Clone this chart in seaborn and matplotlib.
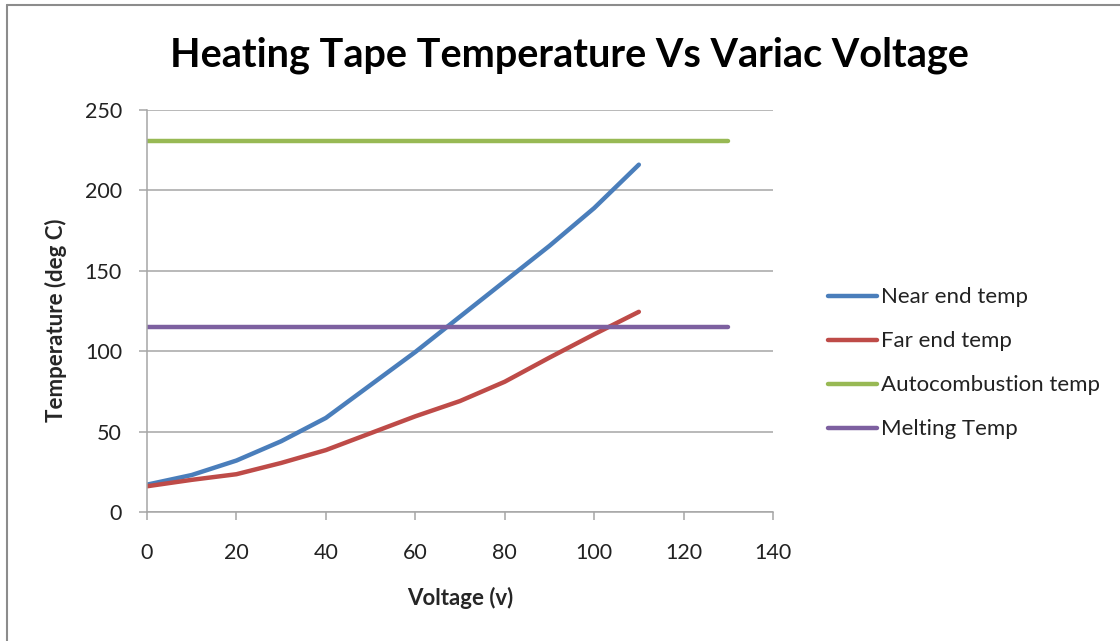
import matplotlib
matplotlib.use("Agg")
import matplotlib.pyplot as plt
from matplotlib.lines import Line2D
import seaborn as sns
import pandas as pd

voltage = [0, 10, 20, 30, 40, 50, 60, 70, 80, 90, 100, 110]
near_end = [17, 23, 32, 44, 58.5, 79, 99.5, 121.5, 143.5, 165.5, 189, 216]
far_end = [16, 20, 23.5, 30.5, 38.5, 49, 59.5, 69, 81, 96, 110.5, 124.5]
ref_voltage = [0, 130]
autocombustion = [231, 231]
melting = [115, 115]

series_names = ["Near end temp", "Far end temp", "Autocombustion temp", "Melting Temp"]
colors = ["#4a7ebb", "#be4b48", "#98b954", "#7d60a0"]

sns.set_theme(style="white")
plt.rcParams["font.family"] = ["Lato", "DejaVu Sans"]

df = pd.concat([
    pd.DataFrame({"V": voltage, "T": near_end, "s": series_names[0]}),
    pd.DataFrame({"V": voltage, "T": far_end, "s": series_names[1]}),
    pd.DataFrame({"V": ref_voltage, "T": autocombustion, "s": series_names[2]}),
    pd.DataFrame({"V": ref_voltage, "T": melting, "s": series_names[3]}),
])

fig = plt.figure(figsize=(11.2, 6.41), dpi=100)
ax = fig.add_axes([147/1120, 1-512/641, (773-147)/1120, (512-110)/641])

sns.lineplot(data=df, x="V", y="T", hue="s", palette=dict(zip(series_names, colors)),
             hue_order=series_names, linewidth=3.2, ax=ax, legend=False,
             sort=False, estimator=None)
for ln in ax.lines:
    ln.set_solid_capstyle("round")
    ln.set_solid_joinstyle("round")

ax.set_xlim(0, 140)
ax.set_ylim(0, 250)
ax.set_xticks(range(0, 141, 20))
ax.set_yticks(range(0, 251, 50))
ax.yaxis.grid(True, color="#a6a6a6", linewidth=1.1)
ax.set_axisbelow(True)
for s in ["top", "right"]:
    ax.spines[s].set_visible(False)
for s in ["left", "bottom"]:
    ax.spines[s].set_color("#a6a6a6")
    ax.spines[s].set_linewidth(1.1)
ax.tick_params(axis="both", which="major", direction="out", length=6, width=1.1,
               color="#a6a6a6", labelsize=15.5, labelcolor="#222222",
               left=True, bottom=True)
ax.tick_params(axis="x", pad=16)
ax.tick_params(axis="y", pad=12)

ax.set_xlabel("Voltage (v)", fontsize=16, fontweight="bold")
ax.set_ylabel("Temperature (deg C)", fontsize=16, fontweight="bold")
ax.xaxis.set_label_coords(0.5, (512-598)/402, transform=ax.transAxes)
ax.xaxis.label.set_va("center")
ax.yaxis.set_label_coords((56-147)/626, (512-320)/402, transform=ax.transAxes)
ax.yaxis.label.set_va("center")

fig.text(569/1120, 1-55/641, "Heating Tape Temperature Vs Variac Voltage",
         ha="center", va="center", fontsize=28.5, fontweight="bold", color="black")

handles = [Line2D([0], [0], color=c, linewidth=3.2, solid_capstyle="round") for c in colors]
leg = fig.legend(handles, series_names, loc="center left",
                 bbox_to_anchor=(828/1120, 1-363.5/641), frameon=False,
                 fontsize=16, handlelength=2.2, handletextpad=0.2,
                 labelspacing=1.08, borderpad=0, borderaxespad=0)
for t in leg.get_texts():
    t.set_color("#222222")

fig.add_artist(Line2D([7/1120, 7/1120], [0, 1-5/641], transform=fig.transFigure,
                      color="#8c8c8c", linewidth=1.5))
fig.add_artist(Line2D([7/1120, 1], [1-5/641, 1-5/641], transform=fig.transFigure,
                      color="#8c8c8c", linewidth=1.5))

fig.savefig("out.png", dpi=100)
